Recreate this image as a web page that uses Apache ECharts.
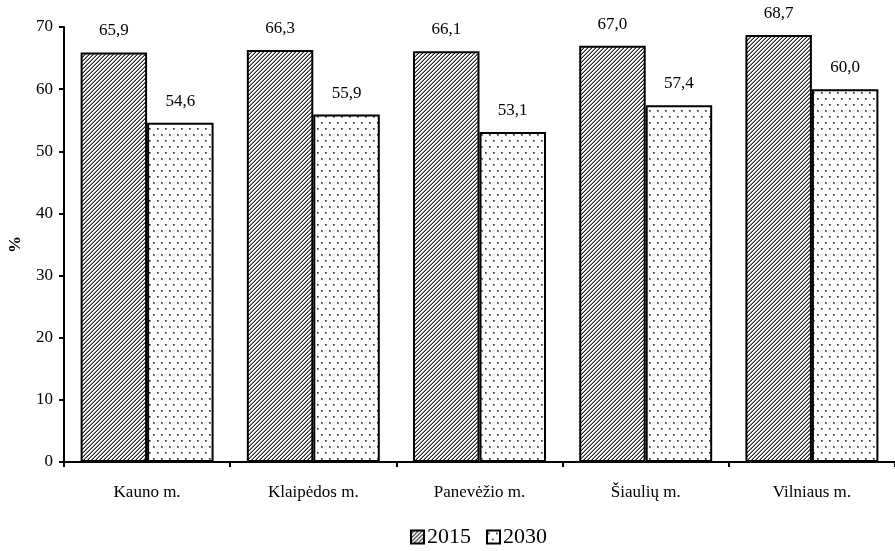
<!DOCTYPE html>
<html>
<head>
<meta charset="utf-8">
<script src="https://cdn.jsdelivr.net/npm/echarts@6/dist/echarts.min.js"></script>
<style>html,body{margin:0;padding:0;background:#fff}#c{width:895px;height:551px}</style>
</head>
<body>
<div id="c"></div>
<script>
const categories = ['Kauno m.', 'Klaipėdos m.', 'Panevėžio m.', 'Šiaulių m.', 'Vilniaus m.'];
const values2015 = [65.9, 66.3, 66.1, 67.0, 68.7];
const values2030 = [54.6, 55.9, 53.1, 57.4, 60.0];
const seriesNames = ['2015', '2030'];

function hatchPattern() {
  const c = document.createElement('canvas');
  c.width = 4; c.height = 4;
  const ctx = c.getContext('2d');
  const img = ctx.createImageData(4, 4);
  for (let y = 0; y < 4; y++) for (let x = 0; x < 4; x++) {
    const k = (x + y) % 4;
    let v = 255;
    if (k === 3) v = 40; else if (k === 2) v = 140;
    const i = (y * 4 + x) * 4;
    img.data[i] = img.data[i + 1] = img.data[i + 2] = v; img.data[i + 3] = 255;
  }
  ctx.putImageData(img, 0, 0);
  return c;
}
function dotPattern() {
  const c = document.createElement('canvas');
  c.width = 8; c.height = 12;
  const ctx = c.getContext('2d');
  ctx.fillStyle = '#fff'; ctx.fillRect(0, 0, 8, 12);
  ctx.fillStyle = '#888';
  ctx.fillRect(1, 2, 2, 2); ctx.fillRect(5, 8, 2, 2);
  ctx.fillStyle = '#222';
  ctx.fillRect(1, 2, 1, 1); ctx.fillRect(5, 8, 1, 1);
  return c;
}

const font = 'Liberation Serif, Times New Roman, serif';
const fmt = p => p.value.toFixed(1).replace('.', ',');

const chart = echarts.init(document.getElementById('c'), null, {renderer: 'canvas'});
chart.setOption({
  animation: false,
  backgroundColor: '#fff',
  textStyle: {fontFamily: font, color: '#000'},
  grid: {left: 64, right: 0, top: 27, bottom: 89, containLabel: false, outerBoundsMode: 'none'},
  legend: {
    top: 526, left: 410, padding: 0,
    icon: 'rect', itemWidth: 13, itemHeight: 13, itemGap: 15,
    textStyle: {fontFamily: font, fontSize: 22, color: '#000', padding: [0, 0, 0, -2]},
    data: seriesNames
  },
  xAxis: {
    type: 'category', data: categories,
    axisLine: {lineStyle: {color: '#000', width: 2}},
    axisTick: {show: true, length: 5, lineStyle: {color: '#000', width: 2}},
    axisLabel: {fontFamily: font, fontSize: 17, color: '#000', margin: 22}
  },
  yAxis: {
    type: 'value', min: 0, max: 70, interval: 10,
    name: '%', nameLocation: 'middle', nameGap: 40,
    nameTextStyle: {fontFamily: font, fontSize: 17, fontWeight: 'bold', color: '#000'},
    axisLine: {show: true, lineStyle: {color: '#000', width: 2}},
    axisTick: {show: true, length: 5, lineStyle: {color: '#000', width: 2}},
    axisLabel: {fontFamily: font, fontSize: 17, color: '#000', margin: 11},
    splitLine: {show: false}
  },
  series: [
    {
      name: seriesNames[0], type: 'bar', data: values2015,
      barGap: '0%', barCategoryGap: '20%',
      itemStyle: {color: {image: hatchPattern(), repeat: 'repeat'}, borderColor: '#000', borderWidth: 2},
      label: {show: true, position: 'top', distance: 13, formatter: fmt, fontFamily: font, fontSize: 17, color: '#000'}
    },
    {
      name: seriesNames[1], type: 'bar', data: values2030,
      barGap: '0%', barCategoryGap: '20%',
      itemStyle: {color: {image: dotPattern(), repeat: 'repeat'}, borderColor: '#000', borderWidth: 2},
      label: {show: true, position: 'top', distance: 13, formatter: fmt, fontFamily: font, fontSize: 17, color: '#000'}
    }
  ]
});
</script>
</body>
</html>
